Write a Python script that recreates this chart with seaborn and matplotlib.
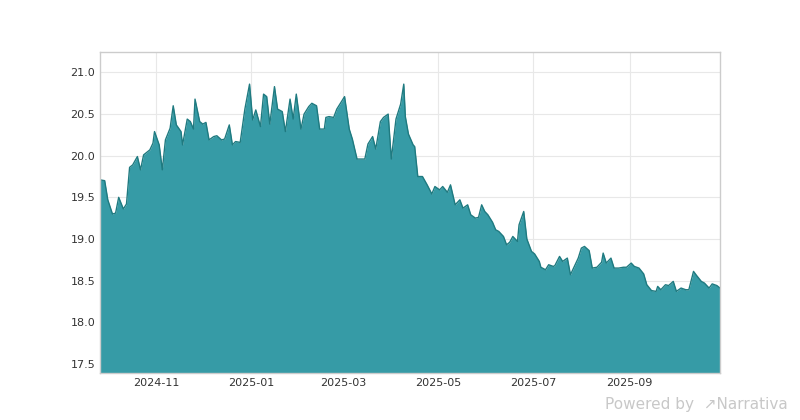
import matplotlib
matplotlib.use("Agg")
import matplotlib.pyplot as plt
import matplotlib.dates as mdates
import seaborn as sns
import pandas as pd

start_date = "2024-09-26"
day_offsets = [0,3,5,8,10,12,15,17,19,21,24,26,28,32,34,35,38,40,42,45,47,49,52,53,56,58,60,61,64,66,68,70,73,75,78,80,83,85,87,90,93,96,98,100,103,105,107,109,112,114,117,119,122,124,126,129,131,134,136,139,141,144,145,147,150,152,155,157,160,162,165,166,170,172,175,177,180,182,185,187,190,193,195,196,198,201,202,204,207,210,213,215,218,220,223,225,228,231,233,236,238,241,243,245,247,249,252,254,256,259,261,263,265,268,269,272,274,277,279,282,283,286,288,291,292,295,297,300,302,305,307,309,311,314,316,319,322,323,325,328,330,333,336,338,341,343,346,349,351,354,357,358,360,363,365,368,370,373,376,378,381,383,386,388,391,393,396,398]
values = [19.71,19.70,19.47,19.30,19.31,19.50,19.36,19.42,19.86,19.89,19.99,19.83,20.01,20.07,20.15,20.29,20.13,19.83,20.19,20.33,20.60,20.37,20.29,20.13,20.44,20.41,20.32,20.68,20.41,20.38,20.40,20.19,20.23,20.24,20.19,20.20,20.37,20.13,20.17,20.16,20.56,20.86,20.43,20.55,20.35,20.74,20.71,20.38,20.83,20.56,20.53,20.29,20.68,20.44,20.74,20.32,20.50,20.59,20.63,20.60,20.32,20.32,20.46,20.47,20.46,20.56,20.65,20.71,20.32,20.20,19.96,19.96,19.96,20.14,20.23,20.08,20.41,20.46,20.50,19.96,20.44,20.62,20.86,20.47,20.26,20.13,20.11,19.75,19.75,19.65,19.54,19.63,19.59,19.63,19.56,19.65,19.41,19.47,19.37,19.41,19.29,19.25,19.26,19.41,19.33,19.29,19.20,19.11,19.09,19.03,18.93,18.96,19.03,18.97,19.17,19.33,19.00,18.85,18.82,18.73,18.66,18.63,18.69,18.67,18.68,18.79,18.73,18.77,18.57,18.69,18.77,18.89,18.91,18.86,18.65,18.66,18.72,18.83,18.71,18.77,18.65,18.65,18.66,18.66,18.71,18.67,18.65,18.58,18.45,18.38,18.37,18.43,18.39,18.45,18.44,18.49,18.37,18.41,18.39,18.39,18.61,18.56,18.49,18.47,18.41,18.46,18.44,18.41]

df = pd.DataFrame({"date": pd.to_datetime(start_date) + pd.to_timedelta(day_offsets, unit="D"),
                   "value": values})

sns.set_style("whitegrid")
fig = plt.figure(figsize=(8, 4.2), dpi=100)
ax = fig.add_axes([0.125, 0.112, 0.775, 0.765])
ymin = 17.39
ax.fill_between(df["date"], df["value"], ymin, color="#369ba6", alpha=1, linewidth=0)
sns.lineplot(data=df, x="date", y="value", ax=ax, color="#1f7a80", linewidth=1)
ax.set_ylim(ymin, 21.25)
ax.set_xlim(df["date"].iloc[0], df["date"].iloc[-1])
ax.set_yticks([17.5, 18.0, 18.5, 19.0, 19.5, 20.0, 20.5, 21.0])
ax.xaxis.set_major_locator(mdates.MonthLocator(bymonth=[1, 3, 5, 7, 9, 11]))
ax.xaxis.set_major_formatter(mdates.DateFormatter("%Y-%m"))
ax.set_xlabel("")
ax.set_ylabel("")
ax.tick_params(labelsize=8, colors="#333333", length=0)
ax.grid(color="#e8e8e8", linewidth=0.8)
for s in ax.spines.values():
    s.set_color("#cccccc")
    s.set_linewidth(1)
fig.text(0.985, 0.02, "Powered by  \u2197Narrativa", ha="right", va="bottom",
         fontsize=11, color="#c8c8c8")
fig.savefig("out.png", dpi=100)
